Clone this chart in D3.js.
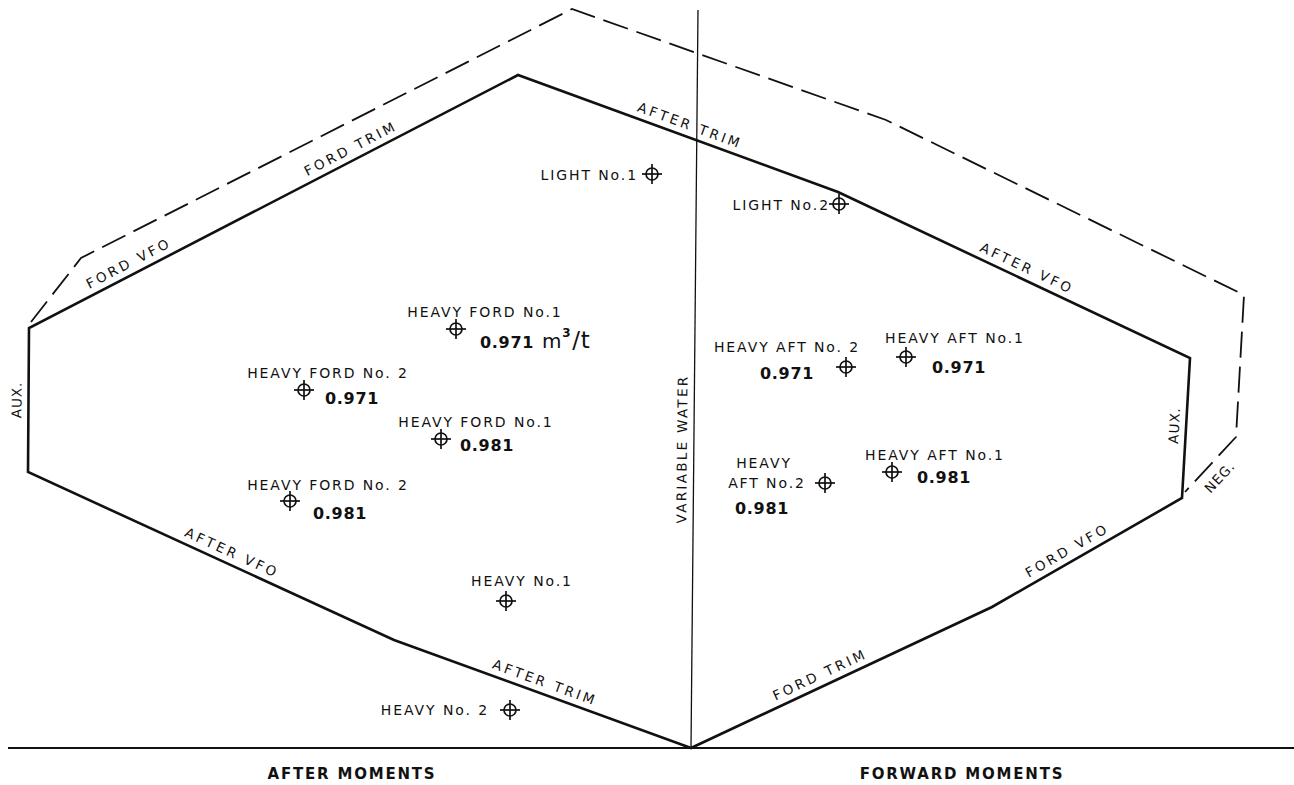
<!DOCTYPE html>
<html>
<head>
<meta charset="utf-8">
<script src="https://cdn.jsdelivr.net/npm/d3@7"></script>
<style>
  html, body { margin: 0; padding: 0; background: #fff; }
  svg { display: block; }
</style>
</head>
<body>
<svg id="chart" width="1294" height="785"></svg>
<script>
// ---------------- DATA (moment x 1000 ft-tons, weight in tons) ----------------
// Trim polygon (solid), vertices in order
const trimPolygon = [
  [0, 0], [-29.7, 54], [-66.3, 138], [-66.2, 210], [-17.3, 336.5],
  [14.7, 278], [49.9, 195], [49.1, 125], [30.1, 70.5]
];
// Outer (dashed) envelope incl. negative tank
const envelope = [
  [-66.0, 213], [-61.0, 245], [-11.9, 369.5], [19.5, 314],
  [55.3, 226.5], [54.5, 155.5], [49.4, 128]
];
// Variable water line
const variableWater = [[0, 0], [0.7, 369]];
const baselineExtent = [-68.3, 60.3];

// Labels on the polygon edges: edge i joins vertex i and i+1; t = fraction along edge
const edgeLabels = [
  { text: "AFTER TRIM", edge: 0, t: 0.495 },
  { text: "AFTER VFO",  edge: 1, t: 0.544 },
  { text: "AUX.",       edge: 2, t: 0.50 },
  { text: "FORD VFO",   edge: 3, t: 0.215 },
  { text: "FORD TRIM",  edge: 3, t: 0.669 },
  { text: "AFTER TRIM", edge: 4, t: 0.525 },
  { text: "AFTER VFO",  edge: 5, t: 0.523 },
  { text: "AUX.",       edge: 6, t: 0.514 },
  { text: "FORD VFO",   edge: 7, t: 0.426 },
  { text: "FORD TRIM",  edge: 8, t: 0.445 }
];
const envelopeLabels = [ { text: "NEG.", edge: 5, t: 0.46 } ];
const waterLabel = { text: "VARIABLE WATER", t: 0.405 };

// Loading conditions (points)
const conditions = [
  { name: "LIGHT No.1",          x: -3.9,  y: 287 },
  { name: "LIGHT No.2",          x: 14.8,  y: 272 },
  { name: "HEAVY FORD No.1 971", x: -23.5, y: 209.5 },
  { name: "HEAVY FORD No.2 971", x: -38.7, y: 179 },
  { name: "HEAVY FORD No.1 981", x: -25.0, y: 154.5 },
  { name: "HEAVY FORD No.2 981", x: -40.1, y: 123.5 },
  { name: "HEAVY No.1",          x: -18.5, y: 73.5 },
  { name: "HEAVY No.2",          x: -18.1, y: 19 },
  { name: "HEAVY AFT No.2 971",  x: 15.5,  y: 190.5 },
  { name: "HEAVY AFT No.1 971",  x: 21.5,  y: 195.5 },
  { name: "HEAVY AFT No.2 981",  x: 13.4,  y: 132.5 },
  { name: "HEAVY AFT No.1 981",  x: 20.1,  y: 138 }
];

// Name labels (anchor point in data units)
const nameLabels = [
  { text: "LIGHT No.1",       x: -5.3,  y: 286.5, align: "end" },
  { text: "LIGHT No.2",       x: 13.9,  y: 271.5, align: "end" },
  { text: "HEAVY FORD No.1",  x: -20.6, y: 218,   align: "middle" },
  { text: "HEAVY FORD No. 2", x: -36.3, y: 187.5, align: "middle" },
  { text: "HEAVY FORD No.1",  x: -21.5, y: 163,   align: "middle" },
  { text: "HEAVY FORD No. 2", x: -36.3, y: 131.5, align: "middle" },
  { text: "HEAVY No.1",       x: -16.9, y: 83.5,  align: "middle" },
  { text: "HEAVY No. 2",      x: -20.2, y: 19,    align: "end" },
  { text: "HEAVY AFT No. 2",  x: 9.6,   y: 200.5, align: "middle" },
  { text: "HEAVY AFT No.1",   x: 26.4,  y: 205,   align: "middle" },
  { text: "HEAVY",            x: 7.3,   y: 142.5, align: "middle" },
  { text: "AFT No.2",         x: 7.6,   y: 132.5, align: "middle" },
  { text: "HEAVY AFT No.1",   x: 24.4,  y: 146.5, align: "middle" }
];

// Specific volume labels (m3/t)
const volumeLabels = [
  { value: "0.971", unit: true,  x: -21.1, y: 203 },
  { value: "0.971", unit: false, x: -36.6, y: 175 },
  { value: "0.981", unit: false, x: -23.1, y: 151.5 },
  { value: "0.981", unit: false, x: -37.8, y: 117.5 },
  { value: "0.971", unit: false, x: 6.9,   y: 187.5 },
  { value: "0.971", unit: false, x: 24.1,  y: 190.5 },
  { value: "0.981", unit: false, x: 4.4,   y: 120 },
  { value: "0.981", unit: false, x: 22.6,  y: 135.5 }
];

const axisTitles = [
  { text: "AFTER MOMENTS",   x: -33.9 },
  { text: "FORWARD MOMENTS", x: 27.1 }
];

// ---------------- DRAWING ----------------
const W = 1294, H = 785;
const svg = d3.select("#chart");
const x = d3.scaleLinear().domain([-69.1, 60.3]).range([0, W]);
const y = d3.scaleLinear().domain([0, 374]).range([748, 0]);
const INK = "#111";
const FONT = "'DejaVu Sans', 'Liberation Sans', sans-serif";

const line = d3.line().x(d => x(d[0])).y(d => y(d[1]));

// baseline
svg.append("line")
  .attr("x1", x(baselineExtent[0])).attr("x2", x(baselineExtent[1]))
  .attr("y1", y(0)).attr("y2", y(0))
  .attr("stroke", INK).attr("stroke-width", 2);

// variable water line
svg.append("path").attr("d", line(variableWater))
  .attr("fill", "none").attr("stroke", INK).attr("stroke-width", 1.3);

// dashed envelope
svg.append("path").attr("d", line(envelope))
  .attr("fill", "none").attr("stroke", INK).attr("stroke-width", 1.8)
  .attr("stroke-dasharray", "26,9").attr("stroke-linejoin", "miter");

// trim polygon
svg.append("path").attr("d", line(trimPolygon) + "Z")
  .attr("fill", "none").attr("stroke", INK).attr("stroke-width", 2.6)
  .attr("stroke-linejoin", "miter");

// helper: place text along a segment
function along(a, b, t) {
  let pa = [x(a[0]), y(a[1])], pb = [x(b[0]), y(b[1])];
  let ang = Math.atan2(pb[1] - pa[1], pb[0] - pa[0]) * 180 / Math.PI;
  const steep = Math.abs(Math.abs(ang) - 90) < 12;
  if (steep) { if (pb[1] > pa[1]) [pa, pb] = [pb, pa]; }
  else if (pb[0] < pa[0]) [pa, pb] = [pb, pa];
  ang = Math.atan2(pb[1] - pa[1], pb[0] - pa[0]) * 180 / Math.PI;
  return { px: pa[0] + t * (pb[0] - pa[0]), py: pa[1] + t * (pb[1] - pa[1]), ang };
}

function edgeText(pts, lab, closed, dy, spacing) {
  const n = pts.length;
  const a = pts[lab.edge], b = pts[closed ? (lab.edge + 1) % n : lab.edge + 1];
  const p = along(a, b, lab.t);
  svg.append("text")
    .attr("transform", `translate(${p.px},${p.py}) rotate(${p.ang})`)
    .attr("x", 0).attr("y", dy)
    .attr("text-anchor", "middle")
    .attr("font-family", FONT).attr("font-size", 13.5)
    .attr("letter-spacing", spacing)
    .attr("fill", INK)
    .text(lab.text);
}

edgeLabels.forEach(l => edgeText(trimPolygon, l, true, -7, l.text === "AUX." ? 1 : 3));
envelopeLabels.forEach(l => edgeText(envelope, l, false, 20, 1));
edgeText(variableWater, { text: waterLabel.text, edge: 0, t: waterLabel.t }, false, -7, 2.3);

// markers
const mk = svg.append("g").selectAll("g").data(conditions).join("g")
  .attr("transform", d => `translate(${x(d.x)},${y(d.y)})`)
  .attr("stroke", INK).attr("stroke-width", 1.7).attr("fill", "none");
mk.append("circle").attr("r", 6);
mk.append("line").attr("x1", -10).attr("x2", 10);
mk.append("line").attr("y1", -10).attr("y2", 10);

// name labels
svg.append("g").selectAll("text").data(nameLabels).join("text")
  .attr("x", d => x(d.x)).attr("y", d => y(d.y))
  .attr("dy", "0.36em")
  .attr("text-anchor", d => d.align)
  .attr("font-family", FONT).attr("font-size", 14)
  .attr("letter-spacing", 1.9)
  .attr("fill", INK)
  .text(d => d.text);

// volume labels
const vl = svg.append("g").selectAll("text").data(volumeLabels).join("text")
  .attr("x", d => x(d.x)).attr("y", d => y(d.y))
  .attr("dy", "0.36em")
  .attr("font-family", FONT).attr("font-size", 16).attr("font-weight", "bold")
  .attr("letter-spacing", 0.7)
  .attr("fill", INK);
vl.append("tspan").text(d => d.value);
vl.filter(d => d.unit).each(function () {
  const t = d3.select(this);
  t.append("tspan").attr("dx", 8).attr("font-weight", "normal").attr("font-size", 20).text("m");
  t.append("tspan").attr("dy", -11).attr("font-size", 12).text("3");
  t.append("tspan").attr("dy", 11).attr("dx", 1).attr("font-weight", "normal").attr("font-size", 23).text("/t");
});

// axis titles
svg.append("g").selectAll("text").data(axisTitles).join("text")
  .attr("x", d => x(d.x)).attr("y", y(0) + 26)
  .attr("dy", "0.36em")
  .attr("text-anchor", "middle")
  .attr("font-family", FONT).attr("font-size", 15).attr("font-weight", "bold")
  .attr("letter-spacing", 1.8)
  .attr("fill", INK)
  .text(d => d.text);
</script>
</body>
</html>
